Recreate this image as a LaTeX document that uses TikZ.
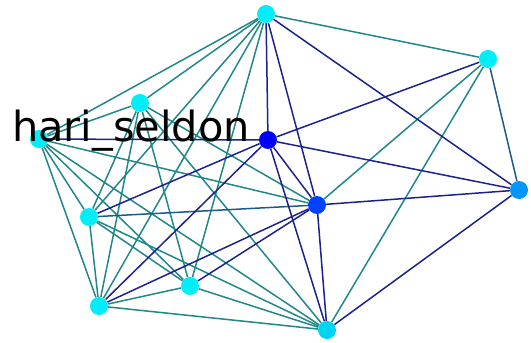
\documentclass[tikz,border=0pt]{standalone}
\usepackage{fontspec}
\setmainfont{DejaVu Sans}
\usepackage{tikz}
\usetikzlibrary{backgrounds}
\definecolor{EdgeTeal}{RGB}{32,136,138}
\definecolor{EdgeMid}{RGB}{30,90,140}
\definecolor{EdgeNavy}{RGB}{28,34,140}
\definecolor{NodeCyan}{RGB}{0,238,248}
\definecolor{NodeSky}{RGB}{0,212,245}
\definecolor{NodeAzure}{RGB}{0,150,255}
\definecolor{NodeRoyal}{RGB}{0,64,255}
\definecolor{NodeBlue}{RGB}{0,0,255}
\begin{document}
\begin{tikzpicture}[x=1pt,y=-1pt,
  vtx/.style={circle,inner sep=0pt,minimum size=18pt},
  tealedge/.style={draw=EdgeTeal,line width=1.5pt},
  midedge/.style={draw=EdgeMid,line width=1.5pt},
  navyedge/.style={draw=EdgeNavy,line width=1.5pt},
]
\useasboundingbox (0,0) rectangle (531,343);
% vertices
\foreach \n/\x/\y/\c in {top/266/14/NodeCyan, ne/488/59/NodeCyan, upl/140/103/NodeCyan,
                         hari/39/139/NodeCyan, hub/268/140/NodeBlue, east/519/190/NodeAzure,
                         mid/317/205/NodeRoyal, west/89/217/NodeCyan, low/190/286/NodeCyan,
                         sw/99/306/NodeCyan, south/327/330/NodeSky}
  \node[vtx,fill=\c] (\n) at (\x,\y) {};
\node[anchor=base,font=\fontsize{41.5}{41.5}\selectfont] (harilbl) at (131,141) {hari\_seldon};
% edges
\begin{scope}[on background layer]
\foreach \a/\b in {top/ne, top/upl, top/hari, top/west, top/sw, top/low,
                   upl/hari, upl/west, upl/sw, upl/low, upl/south, upl/mid,
                   hari/west, hari/sw, hari/low, hari/south, hari/mid,
                   west/sw, west/low, west/south, sw/low, sw/south, low/south,
                   ne/south, ne/mid}
  \draw[tealedge] (\a) -- (\b);
\foreach \a/\b in {west/mid, ne/east}
  \draw[midedge] (\a) -- (\b);
\foreach \a/\b in {top/hub, top/mid, top/east, hari/hub, hub/ne, hub/east, hub/mid,
                   hub/south, hub/west, hub/sw, mid/sw, mid/low, mid/east,
                   mid/south, east/south}
  \draw[navyedge] (\a) -- (\b);
\end{scope}
\end{tikzpicture}
\end{document}
